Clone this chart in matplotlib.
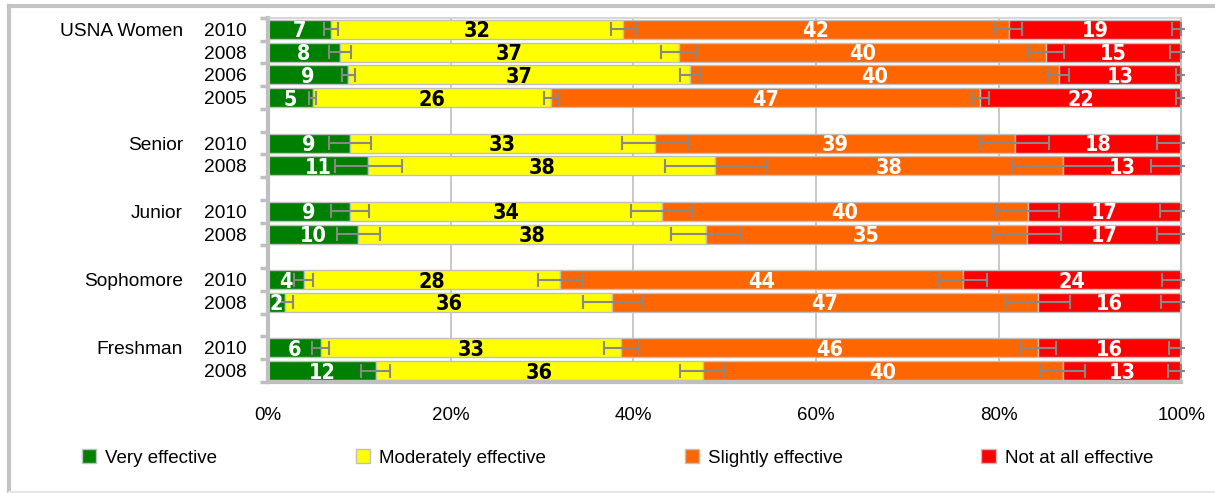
import matplotlib
matplotlib.use('Agg')
from matplotlib import pyplot as plt
from matplotlib.lines import Line2D
import matplotlib.transforms as mtransforms
import numpy as np

plt.rcParams['font.family'] = ['Liberation Sans', 'DejaVu Sans']

groups = ['USNA Women', 'Senior', 'Junior', 'Sophomore', 'Freshman']
years = [['2010', '2008', '2006', '2005'], ['2010', '2008'], ['2010', '2008'],
         ['2010', '2008'], ['2010', '2008']]

# segment sizes (percent), top to bottom
very = [6.9, 7.9, 8.8, 4.9, 9.0, 11.0, 9.0, 9.9, 3.9, 1.9, 5.8, 11.8]
moderately = [32.0, 37.1, 37.4, 26.1, 33.4, 38.0, 34.1, 38.1, 28.1, 35.8, 32.9, 35.8]
slightly = [42.2, 40.2, 40.4, 47.0, 39.4, 38.1, 40.1, 35.1, 44.1, 46.6, 45.6, 39.5]
notatall = [18.9, 14.8, 13.4, 22.0, 18.2, 12.9, 16.8, 16.9, 23.9, 15.7, 15.7, 12.9]

# error half widths at the end of each segment
err_very = [0.73, 1.19, 0.71, 0.40, 2.34, 3.63, 2.04, 2.32, 1.00, 0.88, 0.93, 1.59]
err_moderately = [1.37, 2.00, 1.10, 0.82, 3.61, 5.53, 3.32, 3.82, 2.39, 3.25, 1.88, 2.46]
err_slightly = [1.45, 1.95, 1.10, 0.96, 3.76, 5.60, 3.45, 3.69, 2.65, 3.47, 1.95, 2.41]
err_notatall = [1.01, 1.23, 0.57, 0.57, 2.62, 3.31, 2.37, 2.62, 2.07, 2.21, 1.30, 1.45]

labels = ['Very effective', 'Moderately effective', 'Slightly effective', 'Not at all effective']
colors = ['#008000', '#ffff00', '#ff6600', '#ff0000']
text_colors = ['white', 'black', 'white', 'white']

# slot positions, with an empty slot between groups
pos = []
slot = 0
group_pos = []
for g in years:
    group_pos.append(slot)
    for y in g:
        pos.append(slot)
        slot += 1
    slot += 1
nslots = slot - 1
pos = np.array(pos)

fig = plt.figure(figsize=(12.15, 4.93), dpi=100)
ax = fig.add_axes([0.2205, 0.2252, 0.7517, 0.7383])

series = [very, moderately, slightly, notatall]
errs = [err_very, err_moderately, err_slightly, err_notatall]
left = np.zeros(len(pos))
for i in range(4):
    vals = np.array(series[i])
    ax.barh(pos, vals, left=left, height=0.84, color=colors[i], edgecolor='#bfbfbf',
            linewidth=1, label=labels[i], zorder=2)
    for p, l, v in zip(pos, left, vals):
        ax.text(l + v / 2, p, str(int(round(v))), ha='center', va='center_baseline',
                color=text_colors[i], fontsize=15.5, fontweight='bold',
                family=['Liberation Sans Narrow', 'DejaVu Sans'], fontstretch='condensed',
                zorder=5)
    left = left + vals
    ends = left.copy()
    e = np.array(errs[i])
    if i < 3:
        ax.errorbar(ends, pos, xerr=e, fmt='none', ecolor='#888888', elinewidth=1.5,
                    capsize=5, capthick=1.5, zorder=4)
    else:
        ax.errorbar(ends, pos, xerr=[e, np.zeros(len(e))], fmt='none', ecolor='#888888',
                    elinewidth=1.5, capsize=5, capthick=1.5, zorder=4, clip_on=False)
        ax.hlines(pos, ends, ends + 0.4, color='#888888', linewidth=1.5, zorder=4, clip_on=False)

ax.set_xlim(0, 100)
ax.set_ylim(nslots - 0.5, -0.5)
ax.set_xticks([0, 20, 40, 60, 80, 100])
ax.set_xticklabels(['0%', '20%', '40%', '60%', '80%', '100%'], fontsize=13.5)
ax.tick_params(axis='x', length=0, pad=18)
ax.xaxis.grid(True, color='#c0c0c0', linewidth=1.2, zorder=0)
ax.set_axisbelow(True)

ax.set_yticks(np.arange(-0.5, nslots, 1))
ax.set_yticklabels([])
ax.tick_params(axis='y', which='major', length=6, width=2.5, color='#bfbfbf', direction='out')
ax.set_yticks(pos, minor=True)
ax.set_yticklabels([y for g in years for y in g], minor=True, fontsize=13.8)
ax.tick_params(axis='y', which='minor', length=0, pad=15)

trans = mtransforms.blended_transform_factory(fig.transFigure, ax.transData)
for name, gp in zip(groups, group_pos):
    ax.text(0.1506, gp, name, transform=trans, ha='right', va='center_baseline', fontsize=13.8)

ax.spines['left'].set_color('#bfbfbf')
ax.spines['left'].set_linewidth(3)
ax.spines['bottom'].set_color('#bfbfbf')
ax.spines['bottom'].set_linewidth(3)
ax.spines['top'].set_color('#d0d0d0')
ax.spines['top'].set_linewidth(1.2)
ax.spines['right'].set_color('#c0c0c0')
ax.spines['right'].set_linewidth(1.5)

ax.legend(loc='center', bbox_to_anchor=(-0.2040, -0.224, 1.1734, 0.03), mode='expand',
          ncol=4, frameon=False, fontsize=13.5, handlelength=0.75, handleheight=0.75,
          handletextpad=0.5, borderaxespad=0, borderpad=0)

# outer frame of the chart
x0, y0, y1 = 8.5 / 1215, 1.5 / 493, 1 - 6 / 493
fig.add_artist(Line2D([x0, x0], [y0, y1], transform=fig.transFigure, color='#c4c4c4', linewidth=3))
fig.add_artist(Line2D([x0, 1], [y1, y1], transform=fig.transFigure, color='#c4c4c4', linewidth=3))
fig.add_artist(Line2D([x0, 1], [y0, y0], transform=fig.transFigure, color='#e6e6e6', linewidth=1.5))

fig.savefig('out.png', dpi=100)
